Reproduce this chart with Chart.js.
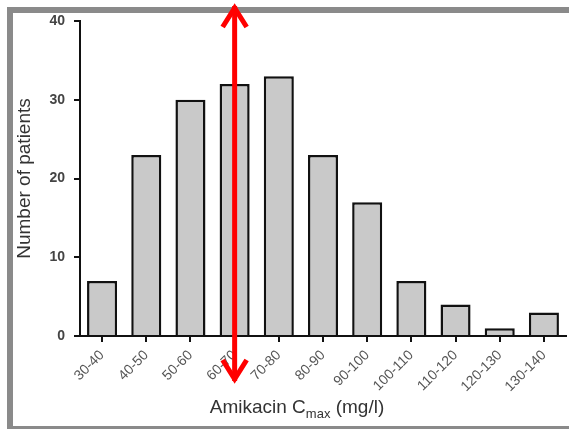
<!DOCTYPE html>
<html>
<head>
<meta charset="utf-8">
<script src="https://cdn.jsdelivr.net/npm/chart.js@4/dist/chart.umd.min.js"></script>
<style>
  html, body { margin: 0; padding: 0; background: #fff; }
  #wrap { width: 569px; height: 429px; position: relative; }
</style>
</head>
<body>
<div id="wrap"><canvas id="myChart" width="569" height="429"></canvas></div>
<script>
// histogram data
var ranges = ['30-40', '40-50', '50-60', '60-70', '70-80', '80-90', '90-100',
	'100-110', '110-120', '120-130', '130-140'];
var patients = [7, 23, 30, 32, 33, 23, 17, 7, 4, 1, 3];
var yTicks = [0, 10, 20, 30, 40];
var arrowAt = '60-70';   // category the red arrow sits on

var fontFamily = '"Liberation Sans", Arial, sans-serif';

// grey frame around the figure
var framePlugin = {
	id: 'frame',
	beforeDraw: function(chart) {
		var ctx = chart.ctx;
		ctx.save();
		ctx.fillStyle = '#8a8a8a';
		ctx.fillRect(7, 7, 562, 6);
		ctx.fillRect(7, 7, 6, 422);
		ctx.fillRect(7, 426, 562, 3);
		ctx.restore();
	}
};

// x title with subscript + red double arrow
var extrasPlugin = {
	id: 'extras',
	afterDraw: function(chart) {
		var ctx = chart.ctx;
		var xs = chart.scales.x;
		ctx.save();

		// axis title "Amikacin Cmax (mg/l)"
		var big = '19px ' + fontFamily, small = '13px ' + fontFamily;
		var p1 = 'Amikacin C', p2 = 'max', p3 = ' (mg/l)';
		ctx.font = big;
		var w1 = ctx.measureText(p1).width, w3 = ctx.measureText(p3).width;
		ctx.font = small;
		var w2 = ctx.measureText(p2).width;
		var x0 = 297 - (w1 + w2 + w3) / 2, base = 413;
		ctx.fillStyle = '#333';
		ctx.textBaseline = 'alphabetic';
		ctx.textAlign = 'left';
		ctx.font = big;
		ctx.fillText(p1, x0, base);
		ctx.font = small;
		ctx.fillText(p2, x0 + w1, base + 5);
		ctx.font = big;
		ctx.fillText(p3, x0 + w1 + w2, base);

		// red double-headed arrow
		var ax = xs.getPixelForValue(ranges.indexOf(arrowAt));
		var top = 4, bot = 383;
		ctx.strokeStyle = '#ff0000';
		ctx.lineWidth = 5;
		ctx.lineCap = 'butt';
		ctx.lineJoin = 'miter';
		ctx.beginPath();
		ctx.moveTo(ax, top + 2);
		ctx.lineTo(ax, bot - 2);
		ctx.stroke();
		ctx.beginPath();
		ctx.moveTo(ax - 12, top + 23);
		ctx.lineTo(ax, top + 4);
		ctx.lineTo(ax + 12, top + 23);
		ctx.stroke();
		ctx.beginPath();
		ctx.moveTo(ax - 12, bot - 23);
		ctx.lineTo(ax, bot - 4);
		ctx.lineTo(ax + 12, bot - 23);
		ctx.stroke();
		ctx.restore();
	}
};

var ctx = document.getElementById('myChart').getContext('2d');
var myChart = new Chart(ctx, {
	type: 'bar',
	data: {
		labels: ranges,
		datasets: [{
			label: 'Number of patients',
			data: patients,
			backgroundColor: '#c9c9c9',
			borderColor: '#111',
			borderWidth: 2.5,
			barPercentage: 0.68,
			categoryPercentage: 1.0
		}]
	},
	options: {
		responsive: false,
		animation: false,
		layout: { padding: { top: 21, right: 3, left: 0, bottom: 0 } },
		plugins: {
			legend: { display: false },
			tooltip: { enabled: false }
		},
		scales: {
			x: {
				grid: {
					display: true,
					drawOnChartArea: false,
					drawTicks: true,
					tickLength: 6,
					offset: false,
					color: '#111',
					lineWidth: 2
				},
				border: { display: true, color: '#111', width: 2 },
				ticks: {
					autoSkip: false,
					maxRotation: 45,
					minRotation: 45,
					padding: 5,
					color: '#555',
					font: { family: fontFamily, size: 14 }
				},
				afterFit: function(scale) {
					scale.height = 93;
					scale.paddingLeft = 0;
					scale.paddingRight = 0;
				}
			},
			y: {
				min: 0,
				max: 40,
				grid: {
					display: true,
					drawOnChartArea: false,
					drawTicks: true,
					tickLength: 6,
					color: '#111',
					lineWidth: 2
				},
				border: { display: true, color: '#111', width: 2 },
				afterBuildTicks: function(scale) {
					scale.ticks = yTicks.map(function(v) { return { value: v }; });
				},
				ticks: {
					padding: 9,
					color: '#444',
					font: { family: fontFamily, size: 14, weight: 'bold' }
				},
				title: {
					display: true,
					text: 'Number of patients',
					color: '#333',
					font: { family: fontFamily, size: 19 },
					padding: { top: 13, bottom: 0 }
				},
				afterFit: function(scale) {
					scale.width = 80;
					scale.paddingTop = 0;
					scale.paddingBottom = 0;
				}
			}
		}
	},
	plugins: [framePlugin, extrasPlugin]
});
</script>
</body>
</html>
